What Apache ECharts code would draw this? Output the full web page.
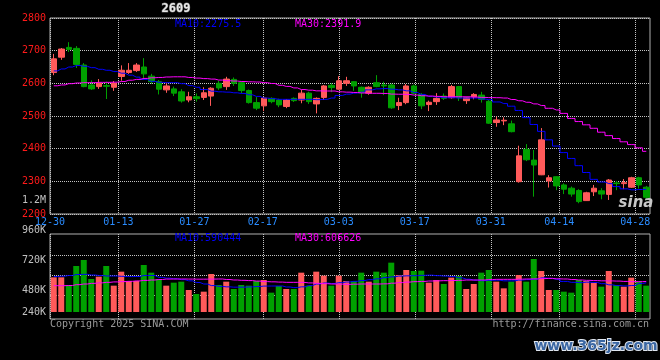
<!DOCTYPE html>
<html>
<head>
<meta charset="utf-8">
<style>
  html, body { margin: 0; padding: 0; background: #000; }
  #kline-main { width: 660px; height: 360px; }
</style>
</head>
<body>
<div id="kline-main"></div>
<script src="https://cdn.jsdelivr.net/npm/echarts@6.0.0/dist/echarts.min.js"></script>
<script>
// 交易日
var dates = [
  "12-30", "12-31", "01-02", "01-03", "01-06", "01-07", "01-08", "01-09", "01-10", "01-13",
  "01-14", "01-15", "01-16", "01-17", "01-20", "01-21", "01-22", "01-23", "01-24", "01-27",
  "02-05", "02-06", "02-07", "02-10", "02-11", "02-12", "02-13", "02-14", "02-17", "02-18",
  "02-19", "02-20", "02-21", "02-24", "02-25", "02-26", "02-27", "02-28", "03-03", "03-04",
  "03-05", "03-06", "03-07", "03-10", "03-11", "03-12", "03-13", "03-14", "03-17", "03-18",
  "03-19", "03-20", "03-21", "03-24", "03-25", "03-26", "03-27", "03-28", "03-31", "04-01",
  "04-02", "04-03", "04-07", "04-08", "04-09", "04-10", "04-11", "04-14", "04-15", "04-16",
  "04-17", "04-18", "04-21", "04-22", "04-23", "04-24", "04-25", "04-28", "04-29", "04-30"
];

// 日K [开, 收, 低, 高]
var kdata = [
  [2633, 2675, 2625, 2690], [2680, 2705, 2672, 2708], [2710, 2704, 2696, 2726], [2707, 2658, 2647, 2714],
  [2656, 2590, 2588, 2662], [2595, 2583, 2580, 2609], [2590, 2600, 2583, 2613], [2593, 2591, 2552, 2605],
  [2588, 2600, 2577, 2607], [2621, 2640, 2608, 2655], [2633, 2640, 2629, 2662], [2639, 2656, 2635, 2662],
  [2650, 2629, 2610, 2677], [2622, 2605, 2598, 2629], [2605, 2582, 2566, 2610], [2580, 2592, 2571, 2602],
  [2583, 2570, 2561, 2590], [2574, 2546, 2541, 2582], [2549, 2559, 2542, 2574], [2559, 2553, 2544, 2569],
  [2557, 2571, 2549, 2588], [2561, 2585, 2531, 2588], [2600, 2586, 2580, 2608], [2590, 2613, 2580, 2620],
  [2612, 2600, 2592, 2618], [2602, 2578, 2570, 2606], [2578, 2541, 2538, 2581], [2541, 2524, 2518, 2558],
  [2531, 2555, 2515, 2557], [2554, 2544, 2539, 2557], [2549, 2534, 2527, 2553], [2529, 2549, 2524, 2552],
  [2554, 2547, 2543, 2557], [2549, 2570, 2539, 2580], [2570, 2544, 2537, 2574], [2537, 2554, 2508, 2557],
  [2557, 2592, 2549, 2595], [2594, 2587, 2573, 2600], [2582, 2608, 2580, 2622], [2600, 2608, 2592, 2620],
  [2605, 2592, 2577, 2607], [2588, 2571, 2556, 2590], [2570, 2588, 2565, 2591], [2602, 2590, 2588, 2625],
  [2595, 2592, 2564, 2605], [2595, 2525, 2522, 2599], [2532, 2541, 2518, 2556], [2541, 2592, 2536, 2598],
  [2592, 2570, 2566, 2596], [2566, 2531, 2521, 2570], [2535, 2542, 2515, 2547], [2544, 2554, 2534, 2570],
  [2561, 2554, 2549, 2569], [2556, 2590, 2553, 2595], [2590, 2556, 2546, 2592], [2547, 2556, 2537, 2559],
  [2559, 2566, 2551, 2570], [2564, 2551, 2541, 2574], [2545, 2478, 2476, 2549], [2480, 2488, 2467, 2498],
  [2485, 2487, 2472, 2496], [2476, 2452, 2450, 2486], [2299, 2378, 2296, 2409], [2398, 2366, 2362, 2414],
  [2365, 2350, 2253, 2396], [2320, 2427, 2319, 2463], [2301, 2311, 2281, 2319], [2314, 2286, 2273, 2316],
  [2289, 2276, 2261, 2294], [2279, 2261, 2253, 2284], [2272, 2238, 2233, 2276], [2241, 2265, 2240, 2268],
  [2268, 2279, 2255, 2289], [2271, 2261, 2245, 2279], [2260, 2304, 2243, 2307], [2295, 2293, 2273, 2301],
  [2293, 2296, 2276, 2307], [2282, 2311, 2280, 2314], [2311, 2289, 2278, 2314], [2282, 2251, 2242, 2286]
];

// 价格均线
var ma10 = [
  2638, 2644, 2650, 2654.6, 2652, 2648, 2643, 2640, 2636, 2631,
  2625, 2619, 2612, 2606, 2603, 2602, 2602, 2599, 2593, 2588,
  2581, 2576, 2574, 2573, 2571, 2569, 2565, 2560, 2555, 2553,
  2551, 2551, 2551, 2551, 2551, 2550, 2551, 2555, 2563, 2567,
  2570, 2573, 2580, 2583, 2584, 2582, 2580, 2577, 2572, 2566,
  2560, 2558, 2556, 2556, 2555, 2555, 2555, 2552, 2550, 2543,
  2538, 2530, 2517, 2495, 2474, 2453, 2427, 2408, 2388, 2370,
  2348, 2327, 2306, 2298, 2293, 2284, 2277, 2274, 2275, 2275.5
];
var ma30 = [
  2592.5, 2595, 2599, 2601, 2602, 2602, 2603, 2603, 2603.5, 2605.5,
  2609.5, 2612, 2615, 2617, 2618, 2619.4, 2620, 2620, 2618, 2616,
  2614.5, 2613, 2610, 2608, 2607, 2605.6, 2604.7, 2604, 2602, 2599.5,
  2594, 2590.6, 2586, 2581, 2579, 2577, 2576.5, 2576.5, 2574, 2573,
  2572, 2570.5, 2569.5, 2569.5, 2569, 2567, 2566.6, 2566, 2564, 2562,
  2561, 2560, 2559, 2559, 2559, 2558.8, 2558, 2557, 2556.3, 2556,
  2555, 2550.5, 2546.5, 2542, 2537, 2532, 2523.6, 2518.4, 2508, 2492.6,
  2483, 2473, 2462.4, 2450.4, 2440, 2431, 2421, 2412.5, 2402.6, 2391.9
];

// 成交量
var volumes = [
  656000, 656000, 564000, 792000, 864000, 636000, 664000, 792000, 556000, 724000,
  612000, 612000, 804000, 712000, 636000, 556000, 592000, 604000, 504000, 456000,
  484000, 696000, 564000, 604000, 516000, 564000, 556000, 612000, 624000, 472000,
  552000, 516000, 516000, 712000, 556000, 724000, 676000, 556000, 676000, 612000,
  612000, 712000, 604000, 724000, 712000, 832000, 684000, 744000, 732000, 736000,
  592000, 624000, 576000, 652000, 672000, 516000, 576000, 712000, 744000, 604000,
  524000, 604000, 684000, 604000, 876000, 732000, 504000, 504000, 484000, 472000,
  624000, 612000, 592000, 544000, 732000, 564000, 544000, 652000, 604000, 556000
];
var volMa10 = [
  666000, 670000, 678000, 690000, 692000, 684000, 678000, 672000, 672000, 668000,
  665000, 666000, 678000, 678000, 656000, 646000, 638000, 628000, 614000, 594000,
  576000, 557000, 547000, 542000, 538000, 538000, 541000, 546000, 551000, 552000,
  552000, 540000, 533000, 542000, 557000, 576000, 588000, 582000, 592000, 600000,
  608000, 618000, 628000, 638000, 653000, 662000, 671000, 674000, 676000, 680000,
  682000, 676000, 671000, 665000, 650000, 634000, 622000, 616000, 620000, 622000,
  614000, 614000, 623000, 628000, 634000, 649000, 644000, 632000, 607000, 596000,
  593000, 598000, 594000, 580000, 566000, 557000, 553000, 558000, 582000, 590444
];
var volMa30 = [
  556000, 556000, 558000, 568000, 576000, 584000, 590000, 596000, 601000, 605000,
  608000, 613000, 619000, 624000, 630000, 635000, 636000, 636000, 635000, 634000,
  634000, 635000, 636000, 630000, 624000, 620000, 617000, 611000, 605000, 602000,
  599000, 596000, 596000, 595000, 589000, 584000, 580000, 576000, 574000, 572000,
  574000, 576000, 576000, 576000, 578000, 586000, 593000, 599000, 604000, 607000,
  612000, 614000, 616000, 618000, 620000, 624000, 624000, 624000, 629000, 632000,
  632000, 632000, 634000, 636000, 637000, 641000, 643000, 638000, 636000, 630000,
  624000, 620000, 617000, 614000, 613000, 611000, 607000, 604000, 604000, 606626
];

// 横轴标注的日期
var labelDates = ["12-30", "01-13", "01-27", "02-17", "03-03", "03-17", "03-31", "04-14", "04-28"];
// 成交量横线
var volGridValues = [480000, 720000, 960000];

var upColor = "#ff5a5a";
var downColor = "#00a000";
var ma10Color = "#0000ff";
var ma30Color = "#ff00ff";
var gridColor = "#c4c4c4";
var mono = '"DejaVu Sans Mono", "Liberation Mono", monospace';

var labelIdx = labelDates.map(function (d) {
  return dates.indexOf(d);
});
// 竖线间距比 K 线间距略宽（新浪图的特点）
var gridDays = 600 / 7.6;

function volText(v) {
  if (v >= 1000000) return v / 1000000 + "M";
  return v / 1000 + "K";
}

var dottedLine = { show: true, lineStyle: { color: gridColor, type: "dotted", width: 1 } };

var myChart = echarts.init(document.getElementById("kline-main"));

myChart.setOption({
  backgroundColor: "#000",
  animation: false,
  grid: [
    // K线
    { left: 50, top: 18, width: 600, height: 196, show: true, borderColor: "#b0b0b0", borderWidth: 1 },
    // 成交量边框
    { left: 50, top: 234, width: 600, height: 85, show: true, borderColor: "#b0b0b0", borderWidth: 1 },
    // 成交量柱
    { left: 50, top: 232, width: 600, height: 80 },
    // 成交量刻度
    { left: 50, top: 200, width: 600, height: 120 }
  ],
  xAxis: [
    { type: "category", gridIndex: 0, data: dates, boundaryGap: true, show: false },
    {
      type: "value", gridIndex: 0, min: 0, max: gridDays, position: "bottom",
      axisLine: { show: false },
      axisTick: { show: false, customValues: labelIdx },
      axisLabel: {
        customValues: labelIdx,
        formatter: function (v) { return dates[Math.round(v)]; },
        color: "#2a8cff", fontSize: 10, fontFamily: mono, margin: 3
      },
      splitLine: dottedLine
    },
    {
      type: "value", gridIndex: 1, min: 0, max: gridDays,
      axisLine: { show: false },
      axisTick: { show: false, customValues: labelIdx },
      axisLabel: { show: false, customValues: labelIdx },
      splitLine: dottedLine
    },
    { type: "category", gridIndex: 2, data: dates, boundaryGap: true, show: false },
    { type: "value", gridIndex: 3, show: false }
  ],
  yAxis: [
    {
      type: "value", gridIndex: 0, min: 2200, max: 2800, interval: 100,
      axisLine: { show: false },
      axisTick: { show: false },
      axisLabel: {
        formatter: function (v) { return String(v); },
        color: "#ff1a1a", fontSize: 10, fontFamily: mono, margin: 4
      },
      splitLine: dottedLine
    },
    {
      type: "value", gridIndex: 1, min: 192000, max: 1212000,
      axisLine: { show: false },
      axisTick: { show: false, customValues: volGridValues },
      axisLabel: { show: false, customValues: volGridValues },
      splitLine: dottedLine
    },
    {
      type: "value", gridIndex: 2, min: 240000, max: 1200000, interval: 240000,
      axisLine: { show: false },
      axisTick: { show: false },
      axisLabel: {
        formatter: function (v) { return v === 240000 ? volText(v) : ""; },
        color: "#c0c0c0", fontSize: 10, fontFamily: mono, margin: 4
      },
      splitLine: { show: false }
    },
    {
      type: "value", gridIndex: 3, min: 240000, max: 1200000, interval: 240000,
      axisLine: { show: false },
      axisTick: { show: false },
      axisLabel: {
        formatter: function (v) { return v === 240000 ? "" : volText(v); },
        color: "#c0c0c0", fontSize: 10, fontFamily: mono, margin: 4
      },
      splitLine: { show: false }
    }
  ],
  series: [
    {
      name: "K", type: "candlestick", xAxisIndex: 0, yAxisIndex: 0,
      data: kdata, barWidth: 6,
      itemStyle: { color: upColor, color0: downColor, borderColor: upColor, borderColor0: downColor, borderWidth: 1 }
    },
    {
      name: "MA10", type: "line", xAxisIndex: 0, yAxisIndex: 0, data: ma10,
      symbol: "none", step: "middle", z: 3,
      lineStyle: { color: ma10Color, width: 1 }
    },
    {
      name: "MA30", type: "line", xAxisIndex: 0, yAxisIndex: 0, data: ma30,
      symbol: "none", step: "middle", z: 3,
      lineStyle: { color: ma30Color, width: 1 }
    },
    {
      name: "VOL", type: "bar", xAxisIndex: 3, yAxisIndex: 2, data: volumes, barWidth: 6,
      itemStyle: {
        color: function (p) {
          var k = kdata[p.dataIndex];
          return k[1] >= k[0] ? upColor : downColor;
        }
      }
    },
    {
      name: "VMA10", type: "line", xAxisIndex: 3, yAxisIndex: 2, data: volMa10,
      symbol: "none", step: "middle", z: 3,
      lineStyle: { color: ma10Color, width: 1 }
    },
    {
      name: "VMA30", type: "line", xAxisIndex: 3, yAxisIndex: 2, data: volMa30,
      symbol: "none", step: "middle", z: 3,
      lineStyle: { color: ma30Color, width: 1 }
    }
  ],
  graphic: [
    {
      type: "text", z: 10,
      style: { text: "2609", x: 176, y: 9, align: "center", verticalAlign: "middle",
        fill: "#e8e8e8", stroke: "#666", lineWidth: 1, font: "bold 12px " + mono }
    },
    {
      type: "text", z: 10,
      style: { text: "MA10:" + ma10[ma10.length - 1].toFixed(1), x: 175, y: 24, verticalAlign: "middle",
        fill: ma10Color, font: "10px " + mono }
    },
    {
      type: "text", z: 10,
      style: { text: "MA30:" + ma30[ma30.length - 1].toFixed(1), x: 295, y: 24, verticalAlign: "middle",
        fill: ma30Color, font: "10px " + mono }
    },
    {
      type: "text", z: 10,
      style: { text: "MA10:" + volMa10[volMa10.length - 1], x: 175, y: 238, verticalAlign: "middle",
        fill: ma10Color, font: "10px " + mono }
    },
    {
      type: "text", z: 10,
      style: { text: "MA30:" + volMa30[volMa30.length - 1], x: 295, y: 238, verticalAlign: "middle",
        fill: ma30Color, font: "10px " + mono }
    },
    {
      type: "text", z: 10,
      style: { text: "Copyright 2025 SINA.COM", x: 50, y: 324, verticalAlign: "middle",
        fill: "#9a9a9a", font: "10px " + mono }
    },
    {
      type: "text", z: 10,
      style: { text: "http://finance.sina.com.cn", x: 649, y: 324, align: "right", verticalAlign: "middle",
        fill: "#9a9a9a", font: "10px " + mono }
    },
    {
      type: "text", z: 10,
      style: { text: "sina", x: 636, y: 203, align: "center", verticalAlign: "middle",
        fill: "#c8c8c8", font: "italic bold 15px 'DejaVu Sans'" }
    },
    {
      type: "text", z: 10,
      style: { text: "www.365jz.com", x: 596, y: 346, align: "center", verticalAlign: "middle",
        fill: "#3b67a3", stroke: "#dfe6f0", lineWidth: 2, font: "bold 14px 'DejaVu Sans'" }
    }
  ]
});
</script>
</body>
</html>
